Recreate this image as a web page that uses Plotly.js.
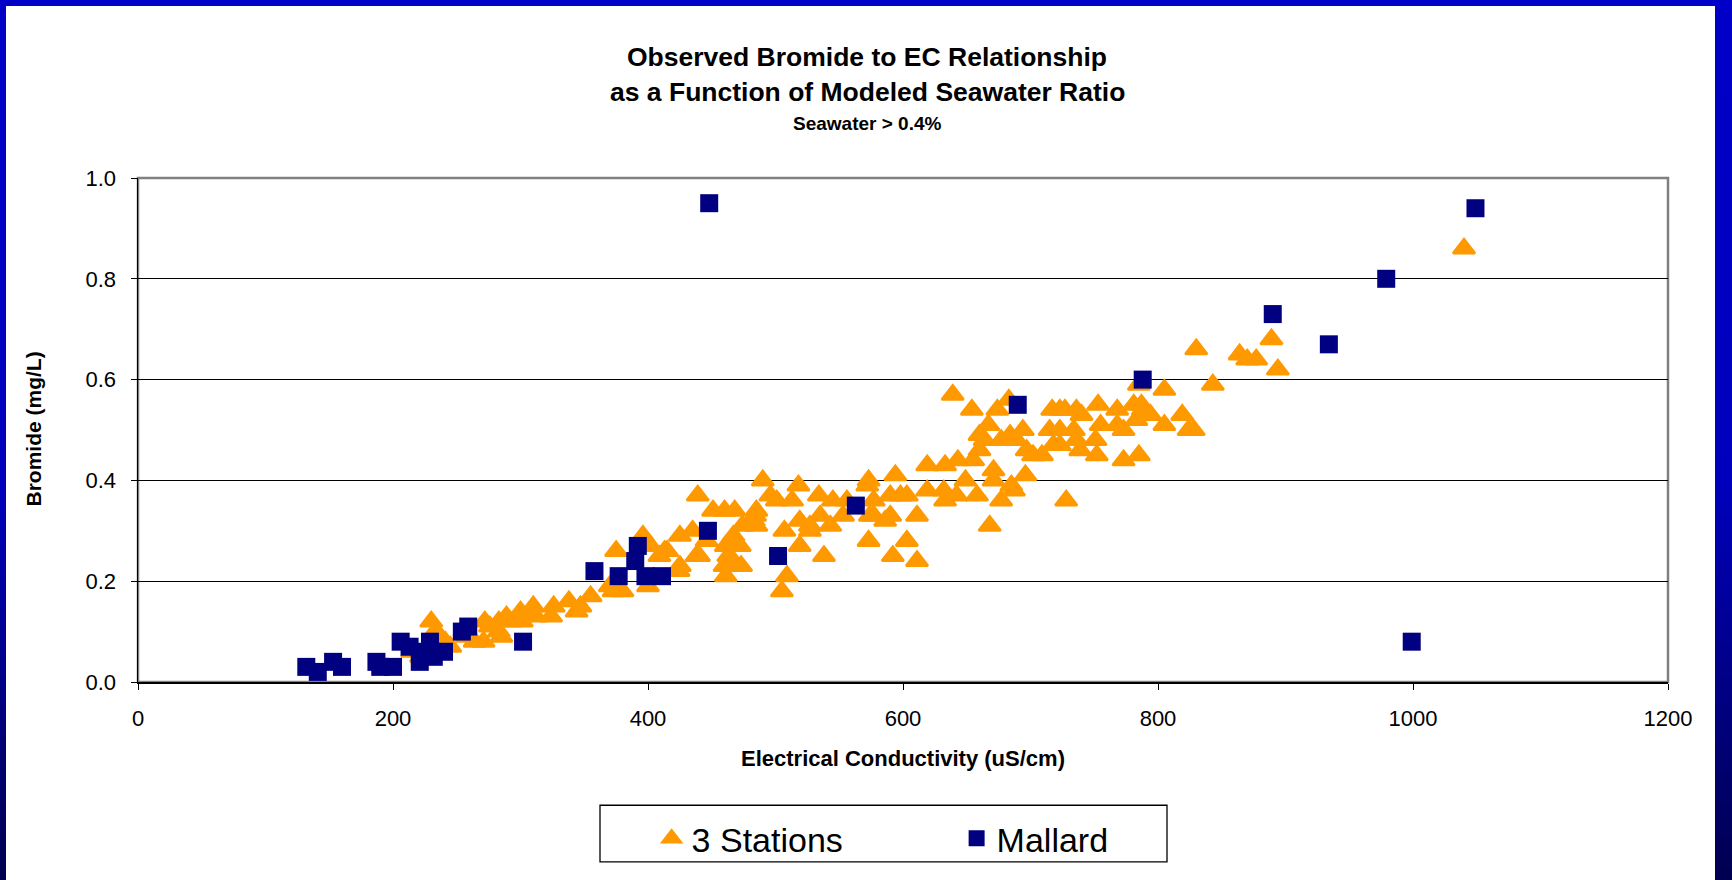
<!DOCTYPE html>
<html><head><meta charset="utf-8">
<script src="https://cdn.plot.ly/plotly-3.0.1.min.js"></script>
<style>
html,body{margin:0;padding:0;width:1732px;height:880px;overflow:hidden;
background:linear-gradient(to bottom,#0000C8 0%,#0000BC 55%,#000050 100%);}
#chart{position:absolute;left:6px;top:6px;width:1709px;height:874px;background:#fff;}
</style></head><body><div id="chart"></div>
<script>
const stationsEC = [215,222,230,233,237,241,245,256,258,264,271,272,276,283,283,285,289,292,300,301,310,312,324,326,338,344,347,355,370,373,375,380,396,400,402,409,413,415,424,425,425,435,438,439,440,446,451,460,460,461,461,463,467,467,468,468,472,473,474,483,484,485,485,490,496,501,505,507,509,513,518,519,519,527,527,534,535,538,543,545,553,556,572,573,573,574,577,577,586,590,590,592,594,598,603,603,611,611,619,619,632,633,633,639,642,643,649,654,655,658,660,660,664,667,668,671,671,674,677,677,683,684,685,687,689,694,696,697,702,709,715,717,718,723,723,723,727,728,734,736,736,739,740,751,752,753,755,768,768,773,773,781,783,785,785,787,788,794,805,805,819,824,828,830,843,864,870,877,889,894,1040];
const stationsBr = [0.06,0.05,0.12,0.10,0.09,0.08,0.07,0.10,0.09,0.08,0.08,0.12,0.11,0.10,0.12,0.09,0.13,0.12,0.14,0.12,0.15,0.13,0.13,0.15,0.16,0.14,0.15,0.17,0.19,0.18,0.26,0.18,0.29,0.19,0.27,0.25,0.26,0.26,0.22,0.29,0.23,0.30,0.25,0.37,0.25,0.28,0.34,0.34,0.23,0.27,0.21,0.25,0.29,0.24,0.34,0.27,0.27,0.23,0.31,0.32,0.33,0.34,0.31,0.40,0.37,0.36,0.18,0.30,0.21,0.36,0.39,0.32,0.27,0.30,0.31,0.37,0.33,0.25,0.31,0.36,0.33,0.36,0.39,0.28,0.40,0.33,0.36,0.33,0.32,0.37,0.33,0.25,0.41,0.37,0.37,0.28,0.33,0.24,0.43,0.38,0.38,0.43,0.36,0.57,0.37,0.44,0.40,0.54,0.44,0.37,0.46,0.49,0.48,0.51,0.31,0.42,0.40,0.54,0.36,0.48,0.56,0.49,0.39,0.38,0.48,0.50,0.41,0.46,0.45,0.45,0.50,0.54,0.47,0.54,0.50,0.47,0.54,0.36,0.50,0.54,0.48,0.46,0.53,0.48,0.45,0.55,0.51,0.54,0.51,0.50,0.44,0.55,0.52,0.59,0.45,0.55,0.54,0.53,0.58,0.51,0.53,0.50,0.50,0.66,0.59,0.65,0.64,0.64,0.68,0.62,0.86];
const mallardEC = [132,141,153,160,187,190,200,206,213,221,224,229,230,232,240,254,259,302,358,377,390,392,398,411,447,448,502,563,690,788,890,934,979,999,1049];
const mallardBr = [0.03,0.02,0.04,0.03,0.04,0.03,0.03,0.08,0.07,0.04,0.06,0.08,0.06,0.05,0.06,0.10,0.11,0.08,0.22,0.21,0.24,0.27,0.21,0.21,0.30,0.95,0.25,0.35,0.55,0.60,0.73,0.67,0.80,0.08,0.94];
const xTicks = [0,200,400,600,800,1000,1200];
const yTicks = [0.0,0.2,0.4,0.6,0.8,1.0];
const seriesNames = ['3 Stations','Mallard'];
const titleLines = ['Observed Bromide to EC Relationship','as a Function of Modeled Seawater Ratio','Seawater > 0.4%'];
const xTitle = 'Electrical Conductivity (uS/cm)';
const yTitle = 'Bromide (mg/L)';

const FONT = 'Liberation Sans, Arial, Helvetica, sans-serif';
const traces = [
  {type:'scatter', mode:'markers', name:seriesNames[0], x:stationsEC, y:stationsBr,
   marker:{symbol:'triangle-up', size:19, color:'#FF9900', line:{color:'#FF9900', width:2.5}}, cliponaxis:false},
  {type:'scatter', mode:'markers', name:seriesNames[1], x:mallardEC, y:mallardBr,
   marker:{symbol:'square', size:18, color:'#000080', line:{width:0}}, cliponaxis:false}
];
const layout = {
  width:1709, height:874,
  margin:{l:132, r:47, t:172, b:195, pad:0},
  paper_bgcolor:'#ffffff', plot_bgcolor:'#ffffff',
  font:{family:FONT, color:'#000'},
  showlegend:true,
  hovermode:false,
  xaxis:{range:[0,1200], tickvals:xTicks, ticktext:xTicks.map(String), showgrid:false, zeroline:false,
    showline:true, linecolor:'#000', linewidth:1.5, ticks:'outside', ticklen:6, tickcolor:'#000', tickwidth:1,
    ticklabelstandoff:10, tickfont:{size:22, family:FONT, color:'#000'}, fixedrange:true},
  yaxis:{range:[0,1], tickvals:yTicks, ticktext:yTicks.map(v=>v.toFixed(1)), showgrid:true, gridcolor:'#000', gridwidth:1,
    zeroline:false, showline:true, linecolor:'#000', linewidth:1.5, ticks:'outside', ticklen:6, tickcolor:'#000', tickwidth:1,
    ticklabelstandoff:10, tickfont:{size:22, family:FONT, color:'#000'}, fixedrange:true},
  shapes:[
    {type:'rect', xref:'paper', yref:'paper', x0:0, x1:1, y0:0, y1:1, line:{color:'#808080', width:2.5}, layer:'below'},
    {type:'rect', xref:'paper', yref:'paper', x0:0.30196, x1:0.67255, y0:-0.357, y1:-0.24458, line:{color:'#000', width:1.3}, fillcolor:'rgba(0,0,0,0)'}
  ],
  annotations:[
    {text:'<b>'+titleLines[0]+'</b>', xref:'paper', yref:'paper', x:0.4765, y:1.2410, showarrow:false, xanchor:'center', yanchor:'middle', font:{size:26.5, family:FONT}},
    {text:'<b>'+titleLines[1]+'</b>', xref:'paper', yref:'paper', x:0.4765, y:1.1710, showarrow:false, xanchor:'center', yanchor:'middle', font:{size:26.5, family:FONT}},
    {text:'<b>'+titleLines[2].replace('>','&gt;')+'</b>', xref:'paper', yref:'paper', x:0.4765, y:1.1085, showarrow:false, xanchor:'center', yanchor:'middle', font:{size:19, family:FONT}},
    {text:'<b>'+xTitle+'</b>', xref:'paper', yref:'paper', x:0.5, y:-0.1525, showarrow:false, xanchor:'center', yanchor:'middle', font:{size:22, family:FONT}},
    {text:'<b>'+yTitle+'</b>', xref:'paper', yref:'paper', x:-0.0686, y:0.501, showarrow:false, xanchor:'center', yanchor:'middle', textangle:-90, font:{size:21, family:FONT}}
  ],
  legend:{orientation:'h', x:0.3357, y:-0.2535, xanchor:'left', yanchor:'top', font:{size:34, family:FONT, color:'#000'},
    bgcolor:'rgba(0,0,0,0)', borderwidth:0, entrywidth:260, entrywidthmode:'pixels', traceorder:'normal'}
};
Plotly.newPlot('chart', traces, layout, {displayModeBar:false, staticPlot:true});
</script></body></html>
